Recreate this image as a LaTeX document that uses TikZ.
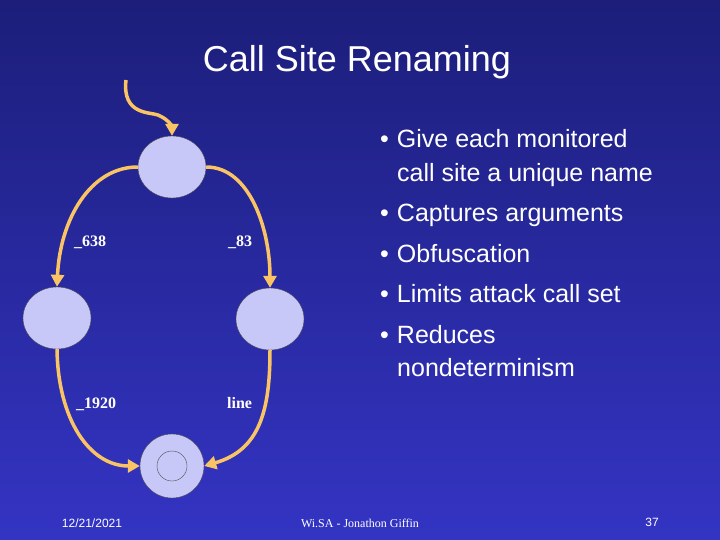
\documentclass[tikz,border=0pt]{standalone}
\usepackage{fontspec}
\usetikzlibrary{arrows.meta,shapes.geometric}
\setmainfont{Liberation Sans}
\newfontfamily\tms{Liberation Serif}
\definecolor{bgtop}{RGB}{28,30,122}
\definecolor{bgbot}{RGB}{52,52,196}
\definecolor{nodefill}{RGB}{200,200,248}
\definecolor{orng}{RGB}{250,196,100}
\begin{document}
\begin{tikzpicture}[x=1pt,y=-1pt,
  st/.style={draw=black!70,thin,fill=nodefill,ellipse,minimum width=68pt,minimum height=62pt,inner sep=0},
  edge/.style={orng,line width=3.5pt,-{Triangle[length=12pt,width=13pt]}},
  lab/.style={text=white,font=\tms\bfseries\fontsize{16}{18}\selectfont,anchor=base west,inner sep=0},
  bul/.style={text=white,font=\fontsize{25}{30}\selectfont,anchor=base west,inner sep=0},
  foot/.style={text=white,inner sep=0,anchor=base}]
\shade[top color=bgtop,bottom color=bgbot] (0,0) rectangle (720,540);
\useasboundingbox (0,0) rectangle (720,540);
\node[text=white,font=\fontsize{36}{40}\selectfont,inner sep=0] (title) at (357,62) {Call Site Renaming};
\node[st] (top) at (172,167) {};
\node[st] (left) at (57,318) {};
\node[st] (right) at (270,319) {};
\node[st,circle,minimum size=64pt] (fin) at (172,466) {};
\node[draw=black!70,thin,circle,minimum size=30pt,inner sep=0] (finin) at (fin) {};
\coordinate (start) at (126,80);
\draw[edge] (start) .. controls (122,115) and (150,112) .. (158,115) .. controls (170,120) and (172,128) .. (top.north);
\draw[edge] (top.west) .. controls (90,167) and (60,220) .. (left.north);
\draw[edge] (top.east) .. controls (250,167) and (270,230) .. (right.north);
\draw[edge] (left.south) .. controls (58,420) and (90,466) .. (fin.west);
\draw[edge] (right.south) .. controls (270,410) and (260,450) .. (fin.east);
\node[lab] (l1) at (74,246) {\_638};
\node[lab] (l2) at (228,247) {\_83};
\node[lab] (l3) at (76,408) {\_1920};
\node[lab] (l4) at (227,408) {line};
\node[bul] (b1) at (380,148) {•\hspace{8pt}Give each monitored};
\node[bul] (b2) at (380,222) {•\hspace{8pt}Captures arguments};
\node[bul] (b3) at (380,262) {•\hspace{8pt}Obfuscation};
\node[bul] (b4) at (380,302) {•\hspace{8pt}Limits attack call set};
\node[bul] (b5) at (380,343) {•\hspace{8pt}Reduces};
\node[bul] (b1b) at (397,182) {call site a unique name};
\node[bul] (b5b) at (397,376) {nondeterminism};
\node[foot,font=\fontsize{12}{14}\selectfont] (f1) at (92,527) {12/21/2021};
\node[foot,font=\tms\fontsize{12}{14}\selectfont] (f2) at (360,527) {Wi.SA - Jonathon Giffin};
\node[foot,font=\fontsize{12}{14}\selectfont] (f3) at (652,526) {37};
\end{tikzpicture}
\end{document}
